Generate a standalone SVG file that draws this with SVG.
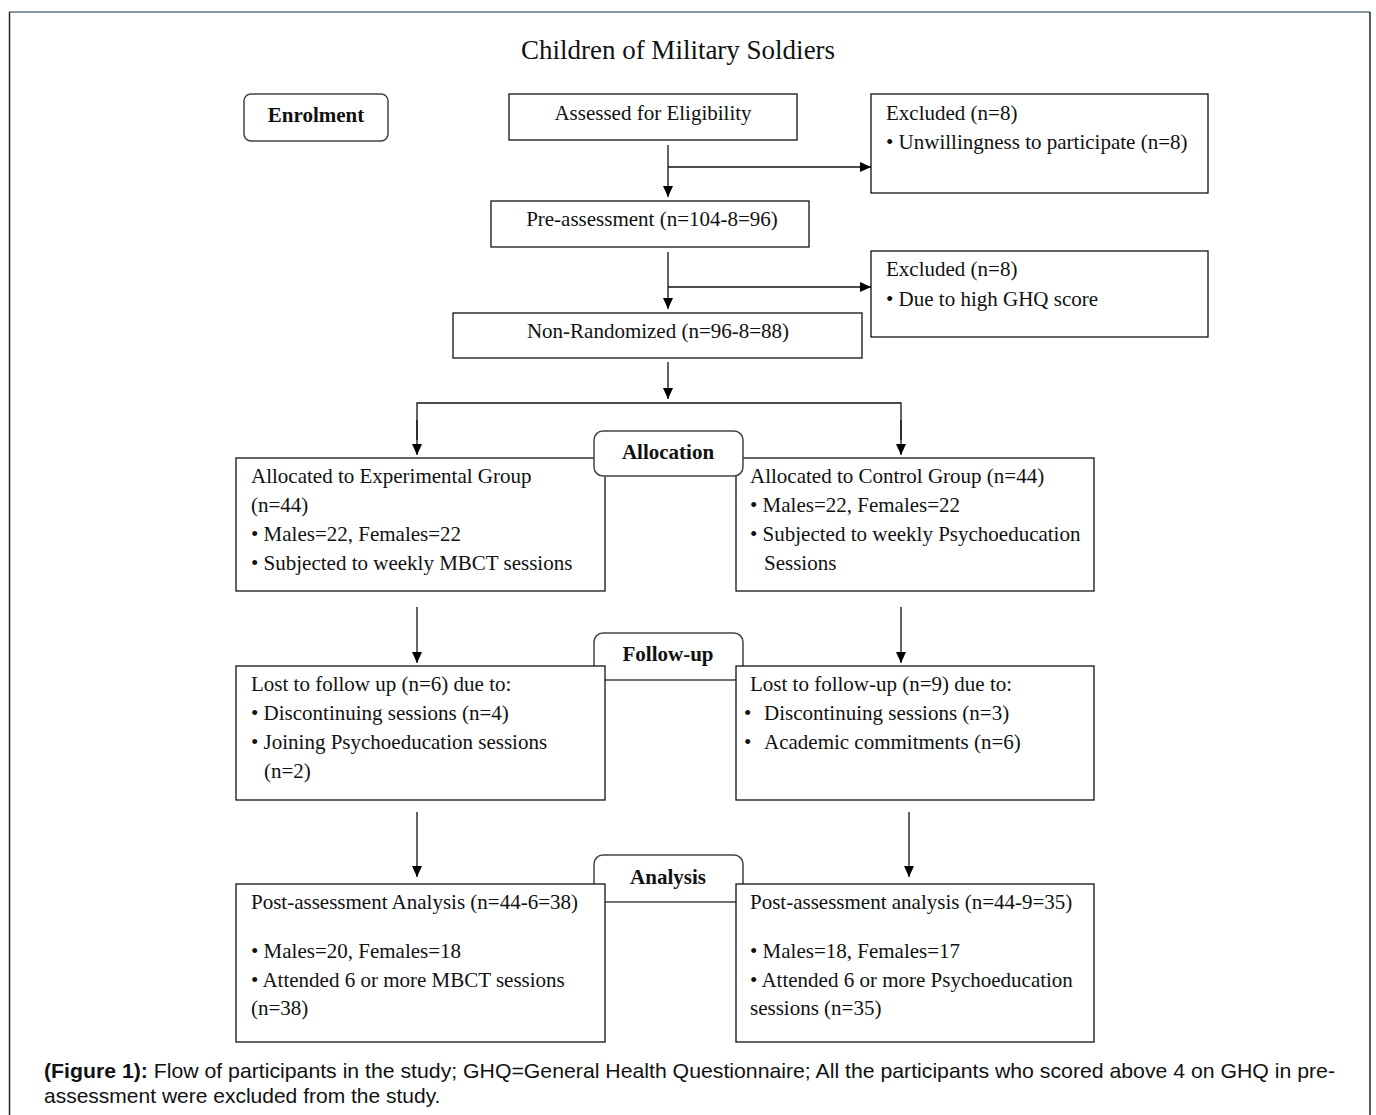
<svg xmlns="http://www.w3.org/2000/svg" width="1376" height="1115" viewBox="0 0 1376 1115">
<defs>
<marker id="ah" markerWidth="11" markerHeight="12" refX="11" refY="5.5" orient="auto" markerUnits="userSpaceOnUse">
<path d="M0,0.5 L11,5.5 L0,10.5 Z" fill="#000"/>
</marker>
<style>
.box{fill:#fff;stroke:#111;stroke-width:1.3}
.tab{fill:#fff;stroke:#444;stroke-width:1.5}
.t{font-family:"Liberation Serif","Times New Roman",serif;font-size:21px;fill:#111}
.b{font-family:"Liberation Serif","Times New Roman",serif;font-size:21px;font-weight:bold;fill:#111}
.c{font-family:"Liberation Sans",Arial,sans-serif;font-size:21px;fill:#111}
.ln{stroke:#111;stroke-width:1.3;fill:none}
.mid{text-anchor:middle}
</style>
</defs>
<rect width="1376" height="1115" fill="#fff"/>
<line x1="9" y1="12" x2="1370" y2="12" stroke="#8a96a0" stroke-width="2"/>
<line x1="9.5" y1="12" x2="9.5" y2="1115" stroke="#1a2433" stroke-width="1.5"/>
<line x1="1370" y1="12" x2="1370" y2="1115" stroke="#1a2433" stroke-width="1.5"/>
<text class="t mid" x="678" y="59" style="font-size:27px">Children of Military Soldiers</text>

<g id="connectors">
<line class="ln" x1="668" y1="145" x2="668" y2="197" marker-end="url(#ah)"/>
<line class="ln" x1="668" y1="167" x2="871" y2="167" marker-end="url(#ah)"/>
<line class="ln" x1="668" y1="252" x2="668" y2="309" marker-end="url(#ah)"/>
<line class="ln" x1="668" y1="287" x2="871" y2="287" marker-end="url(#ah)"/>
<line class="ln" x1="668" y1="362" x2="668" y2="399" marker-end="url(#ah)"/>
<polyline class="ln" points="417,440 417,403 901,403 901,440"/>
<line class="ln" x1="417" y1="420" x2="417" y2="455" marker-end="url(#ah)"/>
<line class="ln" x1="901" y1="420" x2="901" y2="455" marker-end="url(#ah)"/>
<line class="ln" x1="417" y1="607" x2="417" y2="663" marker-end="url(#ah)"/>
<line class="ln" x1="901" y1="607" x2="901" y2="663" marker-end="url(#ah)"/>
<line class="ln" x1="417" y1="812" x2="417" y2="877" marker-end="url(#ah)"/>
<line class="ln" x1="909" y1="812" x2="909" y2="877" marker-end="url(#ah)"/>
</g>

<g id="enrolment">
<rect class="tab" x="244" y="94" width="144" height="47" rx="7"/>
<text class="b mid" x="316" y="122">Enrolment</text>
</g>
<g id="assessed">
<rect class="box" x="509" y="94" width="288" height="46"/>
<text class="t mid" x="653" y="120">Assessed for Eligibility</text>
</g>
<g id="excluded1">
<rect class="box" x="871" y="94" width="337" height="99"/>
<text class="t" x="886" y="120">Excluded (n=8)</text>
<text class="t" x="886" y="149">• Unwillingness to participate (n=8)</text>
</g>
<g id="preassessment">
<rect class="box" x="491" y="201" width="318" height="46"/>
<text class="t mid" x="652" y="226">Pre-assessment (n=104-8=96)</text>
</g>
<g id="excluded2">
<rect class="box" x="871" y="251" width="337" height="86"/>
<text class="t" x="886" y="276">Excluded (n=8)</text>
<text class="t" x="886" y="306">• Due to high GHQ score</text>
</g>
<g id="nonrandomized">
<rect class="box" x="453" y="313" width="409" height="45"/>
<text class="t mid" x="658" y="338">Non-Randomized (n=96-8=88)</text>
</g>

<g id="followup-tab">
<rect class="tab" x="594" y="633" width="149" height="47" rx="9"/>
<text class="b mid" x="668" y="661">Follow-up</text>
</g>
<g id="analysis-tab">
<rect class="tab" x="594" y="855" width="149" height="47" rx="9"/>
<text class="b mid" x="668" y="884">Analysis</text>
</g>

<g id="experimental">
<rect class="box" x="236" y="458" width="369" height="133"/>
<text class="t" x="251" y="483">Allocated to Experimental Group</text>
<text class="t" x="251" y="512">(n=44)</text>
<text class="t" x="251" y="541">• Males=22, Females=22</text>
<text class="t" x="251" y="570">• Subjected to weekly MBCT sessions</text>
</g>
<g id="control">
<rect class="box" x="736" y="458" width="358" height="133"/>
<text class="t" x="750" y="483">Allocated to Control Group (n=44)</text>
<text class="t" x="750" y="512">• Males=22, Females=22</text>
<text class="t" x="750" y="541">• Subjected to weekly Psychoeducation</text>
<text class="t" x="764" y="570">Sessions</text>
</g>
<g id="allocation-tab">
<rect class="tab" x="594" y="431" width="149" height="45" rx="9"/>
<text class="b mid" x="668" y="459">Allocation</text>
</g>

<g id="lost-left">
<rect class="box" x="236" y="666" width="369" height="134"/>
<text class="t" x="251" y="691">Lost to follow up (n=6) due to:</text>
<text class="t" x="251" y="720">• Discontinuing sessions (n=4)</text>
<text class="t" x="251" y="749">• Joining Psychoeducation sessions</text>
<text class="t" x="264" y="778">(n=2)</text>
</g>
<g id="lost-right">
<rect class="box" x="736" y="666" width="358" height="134"/>
<text class="t" x="750" y="691">Lost to follow-up (n=9) due to:</text>
<text class="t" y="720"><tspan x="744">•</tspan><tspan x="764">Discontinuing sessions (n=3)</tspan></text>
<text class="t" y="749"><tspan x="744">•</tspan><tspan x="764">Academic commitments (n=6)</tspan></text>
</g>

<g id="post-left">
<rect class="box" x="236" y="884" width="369" height="158"/>
<text class="t" x="251" y="909">Post-assessment Analysis (n=44-6=38)</text>
<text class="t" x="251" y="958">• Males=20, Females=18</text>
<text class="t" x="251" y="987">• Attended 6 or more MBCT sessions</text>
<text class="t" x="251" y="1015">(n=38)</text>
</g>
<g id="post-right">
<rect class="box" x="736" y="884" width="358" height="158"/>
<text class="t" x="750" y="909">Post-assessment analysis (n=44-9=35)</text>
<text class="t" x="750" y="958">• Males=18, Females=17</text>
<text class="t" x="750" y="987">• Attended 6 or more Psychoeducation</text>
<text class="t" x="750" y="1015">sessions (n=35)</text>
</g>

<g id="caption">
<text class="c" x="44" y="1078" textLength="1291" lengthAdjust="spacingAndGlyphs"><tspan font-weight="bold">(Figure 1):</tspan> Flow of participants in the study; GHQ=General Health Questionnaire; All the participants who scored above 4 on GHQ in pre-</text>
<text class="c" x="44" y="1103">assessment were excluded from the study.</text>
</g>
</svg>
